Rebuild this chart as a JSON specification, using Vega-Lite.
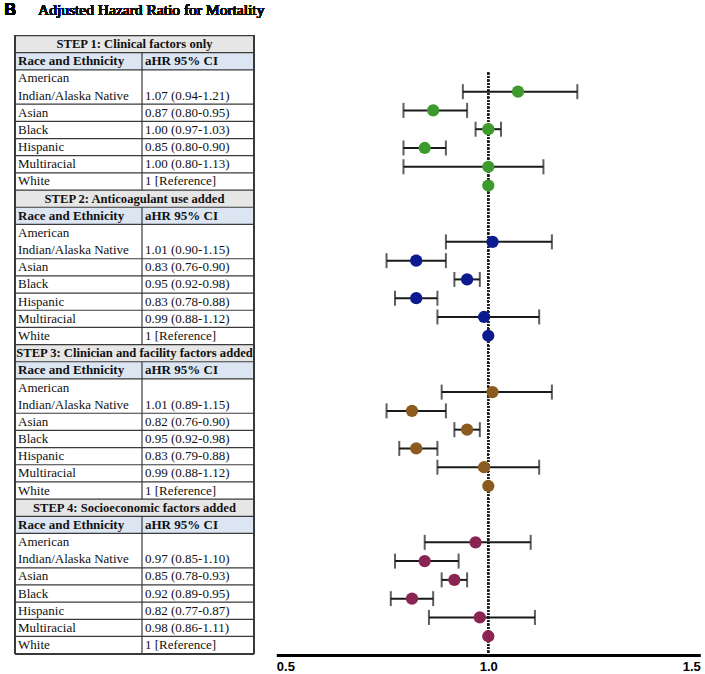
{
  "$schema": "https://vega.github.io/schema/vega-lite/v6.json",
  "padding": 0,
  "spacing": 11.3,
  "background": "white",
  "config": {"view": {"stroke": null}, "font": "Liberation Serif"},
  "datasets": {
    "table": [
      {"line": "S1", "kind": "step", "c1": "STEP 1: Clinical factors only", "c2": ""},
      {"line": "H1", "kind": "head", "c1": "Race and Ethnicity", "c2": "aHR 95% CI"},
      {"line": "A1a", "kind": "data", "c1": "American", "c2": ""},
      {"line": "A1b", "kind": "wrap", "c1": "Indian/Alaska Native", "c2": "1.07 (0.94-1.21)"},
      {"line": "As1", "kind": "data", "c1": "Asian", "c2": "0.87 (0.80-0.95)"},
      {"line": "Bl1", "kind": "data", "c1": "Black", "c2": "1.00 (0.97-1.03)"},
      {"line": "Hi1", "kind": "data", "c1": "Hispanic", "c2": "0.85 (0.80-0.90)"},
      {"line": "Mu1", "kind": "data", "c1": "Multiracial", "c2": "1.00 (0.80-1.13)"},
      {"line": "Wh1", "kind": "data", "c1": "White", "c2": "1 [Reference]"},
      {"line": "S2", "kind": "step", "c1": "STEP 2: Anticoagulant use added", "c2": ""},
      {"line": "H2", "kind": "head", "c1": "Race and Ethnicity", "c2": "aHR 95% CI"},
      {"line": "A2a", "kind": "data", "c1": "American", "c2": ""},
      {"line": "A2b", "kind": "wrap", "c1": "Indian/Alaska Native", "c2": "1.01 (0.90-1.15)"},
      {"line": "As2", "kind": "data", "c1": "Asian", "c2": "0.83 (0.76-0.90)"},
      {"line": "Bl2", "kind": "data", "c1": "Black", "c2": "0.95 (0.92-0.98)"},
      {"line": "Hi2", "kind": "data", "c1": "Hispanic", "c2": "0.83 (0.78-0.88)"},
      {"line": "Mu2", "kind": "data", "c1": "Multiracial", "c2": "0.99 (0.88-1.12)"},
      {"line": "Wh2", "kind": "data", "c1": "White", "c2": "1 [Reference]"},
      {"line": "S3", "kind": "step", "c1": "STEP 3: Clinician and facility factors added", "c2": ""},
      {"line": "H3", "kind": "head", "c1": "Race and Ethnicity", "c2": "aHR 95% CI"},
      {"line": "A3a", "kind": "data", "c1": "American", "c2": ""},
      {"line": "A3b", "kind": "wrap", "c1": "Indian/Alaska Native", "c2": "1.01 (0.89-1.15)"},
      {"line": "As3", "kind": "data", "c1": "Asian", "c2": "0.82 (0.76-0.90)"},
      {"line": "Bl3", "kind": "data", "c1": "Black", "c2": "0.95 (0.92-0.98)"},
      {"line": "Hi3", "kind": "data", "c1": "Hispanic", "c2": "0.83 (0.79-0.88)"},
      {"line": "Mu3", "kind": "data", "c1": "Multiracial", "c2": "0.99 (0.88-1.12)"},
      {"line": "Wh3", "kind": "data", "c1": "White", "c2": "1 [Reference]"},
      {"line": "S4", "kind": "step", "c1": "STEP 4: Socioeconomic factors added", "c2": ""},
      {"line": "H4", "kind": "head", "c1": "Race and Ethnicity", "c2": "aHR 95% CI"},
      {"line": "A4a", "kind": "data", "c1": "American", "c2": ""},
      {"line": "A4b", "kind": "wrap", "c1": "Indian/Alaska Native", "c2": "0.97 (0.85-1.10)"},
      {"line": "As4", "kind": "data", "c1": "Asian", "c2": "0.85 (0.78-0.93)"},
      {"line": "Bl4", "kind": "data", "c1": "Black", "c2": "0.92 (0.89-0.95)"},
      {"line": "Hi4", "kind": "data", "c1": "Hispanic", "c2": "0.82 (0.77-0.87)"},
      {"line": "Mu4", "kind": "data", "c1": "Multiracial", "c2": "0.98 (0.86-1.11)"},
      {"line": "Wh4", "kind": "data", "c1": "White", "c2": "1 [Reference]"}
    ],
    "dividers": [
      {"from": "H1", "to": "S2"},
      {"from": "H2", "to": "S3"},
      {"from": "H3", "to": "S4"},
      {"from": "H4", "to": "end"}
    ],
    "est": [
      {"id": "1 AIAN", "step": "Step 1", "race": "American Indian/Alaska Native", "hr": 1.07, "lo": 0.94, "hi": 1.21},
      {"id": "1 Asian", "step": "Step 1", "race": "Asian", "hr": 0.87, "lo": 0.80, "hi": 0.95},
      {"id": "1 Black", "step": "Step 1", "race": "Black", "hr": 1.00, "lo": 0.97, "hi": 1.03},
      {"id": "1 Hispanic", "step": "Step 1", "race": "Hispanic", "hr": 0.85, "lo": 0.80, "hi": 0.90},
      {"id": "1 Multiracial", "step": "Step 1", "race": "Multiracial", "hr": 1.00, "lo": 0.80, "hi": 1.13},
      {"id": "1 White", "step": "Step 1", "race": "White", "hr": 1.0, "lo": null, "hi": null},
      {"id": "2 AIAN", "step": "Step 2", "race": "American Indian/Alaska Native", "hr": 1.01, "lo": 0.90, "hi": 1.15},
      {"id": "2 Asian", "step": "Step 2", "race": "Asian", "hr": 0.83, "lo": 0.76, "hi": 0.90},
      {"id": "2 Black", "step": "Step 2", "race": "Black", "hr": 0.95, "lo": 0.92, "hi": 0.98},
      {"id": "2 Hispanic", "step": "Step 2", "race": "Hispanic", "hr": 0.83, "lo": 0.78, "hi": 0.88},
      {"id": "2 Multiracial", "step": "Step 2", "race": "Multiracial", "hr": 0.99, "lo": 0.88, "hi": 1.12},
      {"id": "2 White", "step": "Step 2", "race": "White", "hr": 1.0, "lo": null, "hi": null},
      {"id": "3 AIAN", "step": "Step 3", "race": "American Indian/Alaska Native", "hr": 1.01, "lo": 0.89, "hi": 1.15},
      {"id": "3 Asian", "step": "Step 3", "race": "Asian", "hr": 0.82, "lo": 0.76, "hi": 0.90},
      {"id": "3 Black", "step": "Step 3", "race": "Black", "hr": 0.95, "lo": 0.92, "hi": 0.98},
      {"id": "3 Hispanic", "step": "Step 3", "race": "Hispanic", "hr": 0.83, "lo": 0.79, "hi": 0.88},
      {"id": "3 Multiracial", "step": "Step 3", "race": "Multiracial", "hr": 0.99, "lo": 0.88, "hi": 1.12},
      {"id": "3 White", "step": "Step 3", "race": "White", "hr": 1.0, "lo": null, "hi": null},
      {"id": "4 AIAN", "step": "Step 4", "race": "American Indian/Alaska Native", "hr": 0.97, "lo": 0.85, "hi": 1.10},
      {"id": "4 Asian", "step": "Step 4", "race": "Asian", "hr": 0.85, "lo": 0.78, "hi": 0.93},
      {"id": "4 Black", "step": "Step 4", "race": "Black", "hr": 0.92, "lo": 0.89, "hi": 0.95},
      {"id": "4 Hispanic", "step": "Step 4", "race": "Hispanic", "hr": 0.82, "lo": 0.77, "hi": 0.87},
      {"id": "4 Multiracial", "step": "Step 4", "race": "Multiracial", "hr": 0.98, "lo": 0.86, "hi": 1.11},
      {"id": "4 White", "step": "Step 4", "race": "White", "hr": 1.0, "lo": null, "hi": null}
    ]
  },
  "hconcat": [
    {
      "width": 260,
      "height": 672,
      "data": {"name": "table"},
      "layer": [
        {
          "transform": [{"filter": "datum.kind == 'step'"}],
          "mark": {"type": "rect", "color": "#e7e6e6"},
          "encoding": {
            "x": {"datum": 15, "type": "quantitative", "scale": {"domain": [0, 260]}, "axis": null},
            "x2": {"datum": 254},
            "y": {"field": "line", "type": "nominal", "axis": null, "scale": {"type": "band", "paddingInner": 0, "paddingOuter": 0.07, "domain": ["title","gap","S1","H1","A1a","A1b","As1","Bl1","Hi1","Mu1","Wh1","S2","H2","A2a","A2b","As2","Bl2","Hi2","Mu2","Wh2","S3","H3","A3a","A3b","As3","Bl3","Hi3","Mu3","Wh3","S4","H4","A4a","A4b","As4","Bl4","Hi4","Mu4","Wh4","end"]}}
          }
        },
        {
          "transform": [{"filter": "datum.kind == 'head'"}],
          "mark": {"type": "rect", "color": "#dce6f2"},
          "encoding": {
            "x": {"datum": 15, "type": "quantitative", "scale": {"domain": [0, 260]}, "axis": null},
            "x2": {"datum": 254},
            "y": {"field": "line", "type": "nominal", "axis": null, "scale": {"type": "band", "paddingInner": 0, "paddingOuter": 0.07, "domain": ["title","gap","S1","H1","A1a","A1b","As1","Bl1","Hi1","Mu1","Wh1","S2","H2","A2a","A2b","As2","Bl2","Hi2","Mu2","Wh2","S3","H3","A3a","A3b","As3","Bl3","Hi3","Mu3","Wh3","S4","H4","A4a","A4b","As4","Bl4","Hi4","Mu4","Wh4","end"]}}
          }
        },
        {
          "transform": [{"filter": "datum.kind != 'wrap'"}],
          "mark": {"type": "rule", "color": "#3a3a3a", "strokeWidth": 1.2},
          "encoding": {
            "x": {"datum": 15, "type": "quantitative", "scale": {"domain": [0, 260]}, "axis": null},
            "x2": {"datum": 254},
            "y": {"field": "line", "type": "nominal", "bandPosition": 0, "axis": null, "scale": {"type": "band", "paddingInner": 0, "paddingOuter": 0.07, "domain": ["title","gap","S1","H1","A1a","A1b","As1","Bl1","Hi1","Mu1","Wh1","S2","H2","A2a","A2b","As2","Bl2","Hi2","Mu2","Wh2","S3","H3","A3a","A3b","As3","Bl3","Hi3","Mu3","Wh3","S4","H4","A4a","A4b","As4","Bl4","Hi4","Mu4","Wh4","end"]}}
          }
        },
        {
          "mark": {"type": "rule", "color": "#3a3a3a", "strokeWidth": 1.2},
          "encoding": {
            "x": {"datum": 15, "type": "quantitative", "scale": {"domain": [0, 260]}, "axis": null},
            "x2": {"datum": 254},
            "y": {"datum": "end", "type": "nominal", "bandPosition": 0, "axis": null, "scale": {"type": "band", "paddingInner": 0, "paddingOuter": 0.07, "domain": ["title","gap","S1","H1","A1a","A1b","As1","Bl1","Hi1","Mu1","Wh1","S2","H2","A2a","A2b","As2","Bl2","Hi2","Mu2","Wh2","S3","H3","A3a","A3b","As3","Bl3","Hi3","Mu3","Wh3","S4","H4","A4a","A4b","As4","Bl4","Hi4","Mu4","Wh4","end"]}}
          }
        },
        {
          "mark": {"type": "rule", "color": "#3a3a3a", "strokeWidth": 1.2},
          "encoding": {
            "x": {"datum": 15, "type": "quantitative", "scale": {"domain": [0, 260]}, "axis": null},
            "y": {"datum": "S1", "type": "nominal", "bandPosition": 0, "axis": null, "scale": {"type": "band", "paddingInner": 0, "paddingOuter": 0.07, "domain": ["title","gap","S1","H1","A1a","A1b","As1","Bl1","Hi1","Mu1","Wh1","S2","H2","A2a","A2b","As2","Bl2","Hi2","Mu2","Wh2","S3","H3","A3a","A3b","As3","Bl3","Hi3","Mu3","Wh3","S4","H4","A4a","A4b","As4","Bl4","Hi4","Mu4","Wh4","end"]}},
            "y2": {"datum": "end", "bandPosition": 0}
          }
        },
        {
          "mark": {"type": "rule", "color": "#3a3a3a", "strokeWidth": 1.2},
          "encoding": {
            "x": {"datum": 254, "type": "quantitative", "scale": {"domain": [0, 260]}, "axis": null},
            "y": {"datum": "S1", "type": "nominal", "bandPosition": 0, "axis": null, "scale": {"type": "band", "paddingInner": 0, "paddingOuter": 0.07, "domain": ["title","gap","S1","H1","A1a","A1b","As1","Bl1","Hi1","Mu1","Wh1","S2","H2","A2a","A2b","As2","Bl2","Hi2","Mu2","Wh2","S3","H3","A3a","A3b","As3","Bl3","Hi3","Mu3","Wh3","S4","H4","A4a","A4b","As4","Bl4","Hi4","Mu4","Wh4","end"]}},
            "y2": {"datum": "end", "bandPosition": 0}
          }
        },
        {
          "data": {"name": "dividers"},
          "mark": {"type": "rule", "color": "#3a3a3a", "strokeWidth": 1.2},
          "encoding": {
            "x": {"datum": 142, "type": "quantitative", "scale": {"domain": [0, 260]}, "axis": null},
            "y": {"field": "from", "type": "nominal", "bandPosition": 0, "axis": null, "scale": {"type": "band", "paddingInner": 0, "paddingOuter": 0.07, "domain": ["title","gap","S1","H1","A1a","A1b","As1","Bl1","Hi1","Mu1","Wh1","S2","H2","A2a","A2b","As2","Bl2","Hi2","Mu2","Wh2","S3","H3","A3a","A3b","As3","Bl3","Hi3","Mu3","Wh3","S4","H4","A4a","A4b","As4","Bl4","Hi4","Mu4","Wh4","end"]}},
            "y2": {"field": "to", "bandPosition": 0}
          }
        },
        {
          "transform": [{"filter": "datum.kind == 'data' || datum.kind == 'wrap'"}],
          "mark": {"type": "text", "align": "left", "baseline": "middle", "font": "Liberation Serif", "fontSize": 13, "color": "#111111"},
          "encoding": {
            "x": {"datum": 18, "type": "quantitative", "scale": {"domain": [0, 260]}, "axis": null},
            "y": {"field": "line", "type": "nominal", "axis": null, "scale": {"type": "band", "paddingInner": 0, "paddingOuter": 0.07, "domain": ["title","gap","S1","H1","A1a","A1b","As1","Bl1","Hi1","Mu1","Wh1","S2","H2","A2a","A2b","As2","Bl2","Hi2","Mu2","Wh2","S3","H3","A3a","A3b","As3","Bl3","Hi3","Mu3","Wh3","S4","H4","A4a","A4b","As4","Bl4","Hi4","Mu4","Wh4","end"]}},
            "text": {"field": "c1"}
          }
        },
        {
          "transform": [{"filter": "datum.kind == 'data' || datum.kind == 'wrap'"}],
          "mark": {"type": "text", "align": "left", "baseline": "middle", "font": "Liberation Serif", "fontSize": 13, "color": "#111111"},
          "encoding": {
            "x": {"datum": 145, "type": "quantitative", "scale": {"domain": [0, 260]}, "axis": null},
            "y": {"field": "line", "type": "nominal", "axis": null, "scale": {"type": "band", "paddingInner": 0, "paddingOuter": 0.07, "domain": ["title","gap","S1","H1","A1a","A1b","As1","Bl1","Hi1","Mu1","Wh1","S2","H2","A2a","A2b","As2","Bl2","Hi2","Mu2","Wh2","S3","H3","A3a","A3b","As3","Bl3","Hi3","Mu3","Wh3","S4","H4","A4a","A4b","As4","Bl4","Hi4","Mu4","Wh4","end"]}},
            "text": {"field": "c2"}
          }
        },
        {
          "transform": [{"filter": "datum.kind == 'head'"}],
          "mark": {"type": "text", "align": "left", "baseline": "middle", "font": "Liberation Serif", "fontSize": 13, "fontWeight": "bold", "color": "#111111"},
          "encoding": {
            "x": {"datum": 18, "type": "quantitative", "scale": {"domain": [0, 260]}, "axis": null},
            "y": {"field": "line", "type": "nominal", "axis": null, "scale": {"type": "band", "paddingInner": 0, "paddingOuter": 0.07, "domain": ["title","gap","S1","H1","A1a","A1b","As1","Bl1","Hi1","Mu1","Wh1","S2","H2","A2a","A2b","As2","Bl2","Hi2","Mu2","Wh2","S3","H3","A3a","A3b","As3","Bl3","Hi3","Mu3","Wh3","S4","H4","A4a","A4b","As4","Bl4","Hi4","Mu4","Wh4","end"]}},
            "text": {"field": "c1"}
          }
        },
        {
          "transform": [{"filter": "datum.kind == 'head'"}],
          "mark": {"type": "text", "align": "left", "baseline": "middle", "font": "Liberation Serif", "fontSize": 13, "fontWeight": "bold", "color": "#111111"},
          "encoding": {
            "x": {"datum": 145, "type": "quantitative", "scale": {"domain": [0, 260]}, "axis": null},
            "y": {"field": "line", "type": "nominal", "axis": null, "scale": {"type": "band", "paddingInner": 0, "paddingOuter": 0.07, "domain": ["title","gap","S1","H1","A1a","A1b","As1","Bl1","Hi1","Mu1","Wh1","S2","H2","A2a","A2b","As2","Bl2","Hi2","Mu2","Wh2","S3","H3","A3a","A3b","As3","Bl3","Hi3","Mu3","Wh3","S4","H4","A4a","A4b","As4","Bl4","Hi4","Mu4","Wh4","end"]}},
            "text": {"field": "c2"}
          }
        },
        {
          "transform": [{"filter": "datum.kind == 'step'"}],
          "mark": {"type": "text", "align": "center", "baseline": "middle", "font": "Liberation Serif", "fontSize": 12.6, "fontWeight": "bold", "color": "#111111"},
          "encoding": {
            "x": {"datum": 134.5, "type": "quantitative", "scale": {"domain": [0, 260]}, "axis": null},
            "y": {"field": "line", "type": "nominal", "axis": null, "scale": {"type": "band", "paddingInner": 0, "paddingOuter": 0.07, "domain": ["title","gap","S1","H1","A1a","A1b","As1","Bl1","Hi1","Mu1","Wh1","S2","H2","A2a","A2b","As2","Bl2","Hi2","Mu2","Wh2","S3","H3","A3a","A3b","As3","Bl3","Hi3","Mu3","Wh3","S4","H4","A4a","A4b","As4","Bl4","Hi4","Mu4","Wh4","end"]}},
            "text": {"field": "c1"}
          }
        },
        {
          "mark": {"type": "text", "align": "left", "baseline": "middle", "font": "Liberation Sans", "fontSize": 16, "fontWeight": "bold", "color": "#000000"},
          "encoding": {
            "x": {"datum": 4.5, "type": "quantitative", "scale": {"domain": [0, 260]}, "axis": null},
            "y": {"datum": "title", "type": "nominal", "axis": null, "scale": {"type": "band", "paddingInner": 0, "paddingOuter": 0.07, "domain": ["title","gap","S1","H1","A1a","A1b","As1","Bl1","Hi1","Mu1","Wh1","S2","H2","A2a","A2b","As2","Bl2","Hi2","Mu2","Wh2","S3","H3","A3a","A3b","As3","Bl3","Hi3","Mu3","Wh3","S4","H4","A4a","A4b","As4","Bl4","Hi4","Mu4","Wh4","end"]}},
            "text": {"value": "B"}
          }
        },
        {
          "mark": {"type": "text", "align": "left", "baseline": "middle", "font": "Liberation Serif", "fontSize": 15.5, "fontWeight": "normal", "color": "#111111"},
          "encoding": {
            "x": {"datum": 38, "type": "quantitative", "scale": {"domain": [0, 260]}, "axis": null},
            "y": {"datum": "title", "type": "nominal", "axis": null, "scale": {"type": "band", "paddingInner": 0, "paddingOuter": 0.07, "domain": ["title","gap","S1","H1","A1a","A1b","As1","Bl1","Hi1","Mu1","Wh1","S2","H2","A2a","A2b","As2","Bl2","Hi2","Mu2","Wh2","S3","H3","A3a","A3b","As3","Bl3","Hi3","Mu3","Wh3","S4","H4","A4a","A4b","As4","Bl4","Hi4","Mu4","Wh4","end"]}},
            "text": {"value": "Adjusted Hazard Ratio for Mortality"}
          }
        }
      ]
    },
    {
      "width": 424,
      "height": 655,
      "data": {"name": "est"},
      "layer": [
        {
          "mark": {"type": "rule", "color": "#222222", "strokeWidth": 1.6, "strokeDash": [1.6, 1.8]},
          "encoding": {
            "x": {"datum": 1, "type": "quantitative", "scale": {"domain": [0.5, 1.5], "nice": false, "zero": false}, "axis": {"values": [0.5, 1.0, 1.5], "format": ".1f", "ticks": false, "grid": false, "title": null, "domainWidth": 3, "domainColor": "#000000", "labelFont": "Liberation Sans", "labelFontSize": 13, "labelFontWeight": "bold", "labelColor": "#000000", "labelPadding": 5}},
            "y": {"datum": "top", "type": "nominal", "axis": null, "scale": {"type": "point", "padding": 0.94, "align": 1, "domain": ["s1","s2","top","1 AIAN","1 Asian","1 Black","1 Hispanic","1 Multiracial","1 White","g1a","g1b","2 AIAN","2 Asian","2 Black","2 Hispanic","2 Multiracial","2 White","g2a","g2b","3 AIAN","3 Asian","3 Black","3 Hispanic","3 Multiracial","3 White","g3a","g3b","4 AIAN","4 Asian","4 Black","4 Hispanic","4 Multiracial","4 White","bot"]}},
            "y2": {"datum": "bot"}
          }
        },
        {
          "transform": [{"filter": "datum.lo != null"}],
          "mark": {"type": "rule", "color": "#1a1a1a", "strokeWidth": 2},
          "encoding": {
            "x": {"field": "lo", "type": "quantitative", "scale": {"domain": [0.5, 1.5], "nice": false, "zero": false}},
            "x2": {"field": "hi"},
            "y": {"field": "id", "type": "nominal", "axis": null, "scale": {"type": "point", "padding": 0.94, "align": 1, "domain": ["s1","s2","top","1 AIAN","1 Asian","1 Black","1 Hispanic","1 Multiracial","1 White","g1a","g1b","2 AIAN","2 Asian","2 Black","2 Hispanic","2 Multiracial","2 White","g2a","g2b","3 AIAN","3 Asian","3 Black","3 Hispanic","3 Multiracial","3 White","g3a","g3b","4 AIAN","4 Asian","4 Black","4 Hispanic","4 Multiracial","4 White","bot"]}}
          }
        },
        {
          "transform": [{"filter": "datum.lo != null"}],
          "mark": {"type": "tick", "color": "#1a1a1a", "thickness": 2, "size": 15, "orient": "vertical"},
          "encoding": {
            "x": {"field": "lo", "type": "quantitative", "scale": {"domain": [0.5, 1.5], "nice": false, "zero": false}},
            "y": {"field": "id", "type": "nominal", "axis": null, "scale": {"type": "point", "padding": 0.94, "align": 1, "domain": ["s1","s2","top","1 AIAN","1 Asian","1 Black","1 Hispanic","1 Multiracial","1 White","g1a","g1b","2 AIAN","2 Asian","2 Black","2 Hispanic","2 Multiracial","2 White","g2a","g2b","3 AIAN","3 Asian","3 Black","3 Hispanic","3 Multiracial","3 White","g3a","g3b","4 AIAN","4 Asian","4 Black","4 Hispanic","4 Multiracial","4 White","bot"]}}
          }
        },
        {
          "transform": [{"filter": "datum.lo != null"}],
          "mark": {"type": "tick", "color": "#1a1a1a", "thickness": 2, "size": 15, "orient": "vertical"},
          "encoding": {
            "x": {"field": "hi", "type": "quantitative", "scale": {"domain": [0.5, 1.5], "nice": false, "zero": false}},
            "y": {"field": "id", "type": "nominal", "axis": null, "scale": {"type": "point", "padding": 0.94, "align": 1, "domain": ["s1","s2","top","1 AIAN","1 Asian","1 Black","1 Hispanic","1 Multiracial","1 White","g1a","g1b","2 AIAN","2 Asian","2 Black","2 Hispanic","2 Multiracial","2 White","g2a","g2b","3 AIAN","3 Asian","3 Black","3 Hispanic","3 Multiracial","3 White","g3a","g3b","4 AIAN","4 Asian","4 Black","4 Hispanic","4 Multiracial","4 White","bot"]}}
          }
        },
        {
          "mark": {"type": "circle", "size": 150, "opacity": 1},
          "encoding": {
            "x": {"field": "hr", "type": "quantitative", "scale": {"domain": [0.5, 1.5], "nice": false, "zero": false}},
            "y": {"field": "id", "type": "nominal", "axis": null, "scale": {"type": "point", "padding": 0.94, "align": 1, "domain": ["s1","s2","top","1 AIAN","1 Asian","1 Black","1 Hispanic","1 Multiracial","1 White","g1a","g1b","2 AIAN","2 Asian","2 Black","2 Hispanic","2 Multiracial","2 White","g2a","g2b","3 AIAN","3 Asian","3 Black","3 Hispanic","3 Multiracial","3 White","g3a","g3b","4 AIAN","4 Asian","4 Black","4 Hispanic","4 Multiracial","4 White","bot"]}},
            "color": {"field": "step", "type": "nominal", "legend": null, "scale": {"domain": ["Step 1", "Step 2", "Step 3", "Step 4"], "range": ["#3d9a2d", "#0c1a8f", "#8b5a1f", "#8a2553"]}}
          }
        }
      ]
    }
  ]
}
